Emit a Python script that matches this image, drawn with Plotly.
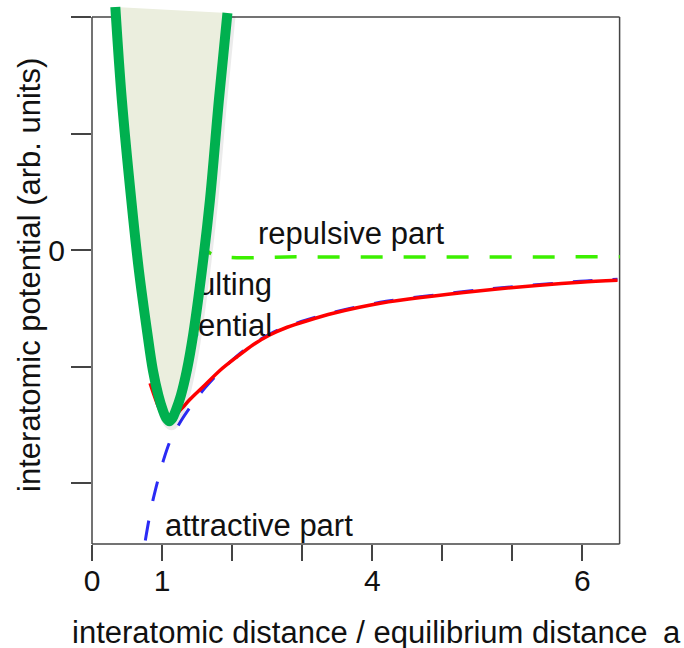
import plotly.graph_objects as go

# ---- data ----
# resulting potential (red, solid)
res_x = [0.829, 0.971, 1.086, 1.257, 1.4, 1.586, 1.829, 2.071, 2.3, 2.543, 2.786, 3.071, 3.443, 4.114, 5.543, 6.971, 7.5]
res_y = [-1.142, -1.373, -1.468, -1.373, -1.279, -1.172, -1.03, -0.914, -0.811, -0.725, -0.661, -0.605, -0.541, -0.455, -0.348, -0.275, -0.258]

# attractive part (blue, dashed)
att_x = [0.761, 0.811, 0.869, 0.94, 1.019, 1.119, 1.276, 1.419, 1.619, 1.829, 2.071, 2.3, 2.543, 2.786, 3.071, 3.443, 4.114, 5.543, 6.971, 7.5]
att_y = [-2.489, -2.318, -2.146, -1.974, -1.803, -1.631, -1.459, -1.33, -1.176, -1.04, -0.906, -0.803, -0.717, -0.653, -0.597, -0.533, -0.447, -0.34, -0.267, -0.25]

# repulsive part (bright green, dashed)
rep_x = [1.404, 1.519, 1.633, 1.833, 2.976, 7.533]
rep_y = [0.858, 0.215, 0.0, -0.052, -0.057, -0.057]

# harmonic well (thick green outline with light fill)
well_x = [0.333, 0.426, 0.561, 0.669, 0.79, 0.869, 0.947, 1.011, 1.061, 1.104,
          1.147, 1.197, 1.269, 1.354, 1.447, 1.569, 1.683, 1.811, 1.933]
well_y = [2.086, 1.288, 0.429, -0.172, -0.712, -1.03, -1.245, -1.373, -1.442, -1.468,
          -1.442, -1.373, -1.245, -1.03, -0.712, -0.172, 0.429, 1.288, 2.034]

x_tickvals = [0, 1, 2, 3, 4, 5, 6, 7]
x_ticktext = ["0", "1", "", "", "4", "", "", "6"]
y_tickvals = [-2, -1, 0, 1, 2]
y_ticktext = ["", "", "0", "", ""]

X_MAX = 7.53
Y_MIN, Y_TOP = -2.52, 2.0

FONT = "Arial, Liberation Sans, Helvetica, sans-serif"

fig = go.Figure()

fig.add_trace(go.Scatter(x=att_x, y=att_y, mode="lines",
                         line=dict(color="#2B2BF5", width=3, dash="20px,20px", shape="spline", smoothing=0.8),
                         hoverinfo="skip"))
fig.add_trace(go.Scatter(x=rep_x, y=rep_y, mode="lines",
                         line=dict(color="#3CF000", width=3.5, dash="22px,21px", shape="spline"),
                         hoverinfo="skip"))
fig.add_trace(go.Scatter(x=res_x, y=res_y, mode="lines",
                         line=dict(color="#FF0000", width=3.5, shape="spline", smoothing=0.8),
                         hoverinfo="skip"))
# label partly hidden behind the well
fig.add_trace(go.Scatter(x=[2.571], y=[-0.493], mode="text",
                         text=["resulting<br>potential"], textposition="middle left",
                         textfont=dict(family=FONT, size=31, color="#111111"),
                         hoverinfo="skip"))
# soft shadow of the well
fig.add_trace(go.Scatter(x=[v + 0.03 for v in well_x], y=[v - 0.026 for v in well_y], mode="lines",
                         line=dict(color="rgba(0,0,0,0.08)", width=12, shape="spline"),
                         hoverinfo="skip"))
fig.add_trace(go.Scatter(x=well_x, y=well_y, mode="lines", fill="toself",
                         fillcolor="#EBEEDE",
                         line=dict(color="#00B04F", width=10, shape="spline"),
                         hoverinfo="skip"))

frame = dict(color="#444444", width=1.5)
fig.add_shape(type="line", xref="paper", yref="y", x0=0, x1=0, y0=Y_MIN, y1=Y_TOP, line=frame, layer="below")
fig.add_shape(type="line", xref="x", yref="paper", x0=0, x1=X_MAX, y0=0, y1=0, line=frame, layer="below")
fig.add_shape(type="line", xref="x", yref="y", x0=X_MAX, x1=X_MAX, y0=Y_MIN, y1=Y_TOP, line=frame, layer="below")
fig.add_shape(type="line", xref="x", yref="y", x0=0, x1=X_MAX, y0=Y_TOP, y1=Y_TOP, line=frame, layer="below")

ann_font = dict(family=FONT, size=31, color="#111111")
fig.add_annotation(x=2.343, y=0.142, xref="x", yref="y", text="repulsive part",
                   showarrow=False, xanchor="left", yanchor="middle", font=ann_font)
fig.add_annotation(x=1.014, y=-2.365, xref="x", yref="y", text="attractive part",
                   showarrow=False, xanchor="left", yanchor="middle", font=ann_font)
fig.add_annotation(x=-0.0416, y=-0.163, xref="paper", yref="paper",
                   text="interatomic distance / equilibrium distance",
                   showarrow=False, xanchor="left", yanchor="middle", font=ann_font)
fig.add_annotation(x=1.0965, y=-0.163, xref="paper", yref="paper", text="a",
                   showarrow=False, xanchor="center", yanchor="middle", font=ann_font)
fig.add_annotation(x=-0.117, y=0.4976, xref="paper", yref="paper",
                   text="interatomic potential (arb. units)", textangle=-90,
                   showarrow=False, xanchor="center", yanchor="middle", font=ann_font)

fig.update_xaxes(range=[0, 7.55], tickvals=x_tickvals, ticktext=x_ticktext,
                 ticks="outside", ticklen=16, tickwidth=1.5, tickcolor="#444444",
                 ticklabelstandoff=-6,
                 showgrid=False, zeroline=False, showline=False,
                 tickfont=dict(family=FONT, size=30, color="#111111"))
fig.update_yaxes(range=[-2.52, 2.12], tickvals=y_tickvals, ticktext=y_ticktext,
                 ticks="outside", ticklen=20, tickwidth=1.5, tickcolor="#444444",
                 showgrid=False, zeroline=False, showline=False,
                 tickfont=dict(family=FONT, size=30, color="#111111"))

fig.update_layout(width=684, height=648, showlegend=False,
                  margin=dict(l=92, r=63, t=3, b=104),
                  paper_bgcolor="white", plot_bgcolor="white")

fig.write_html("out.html")
